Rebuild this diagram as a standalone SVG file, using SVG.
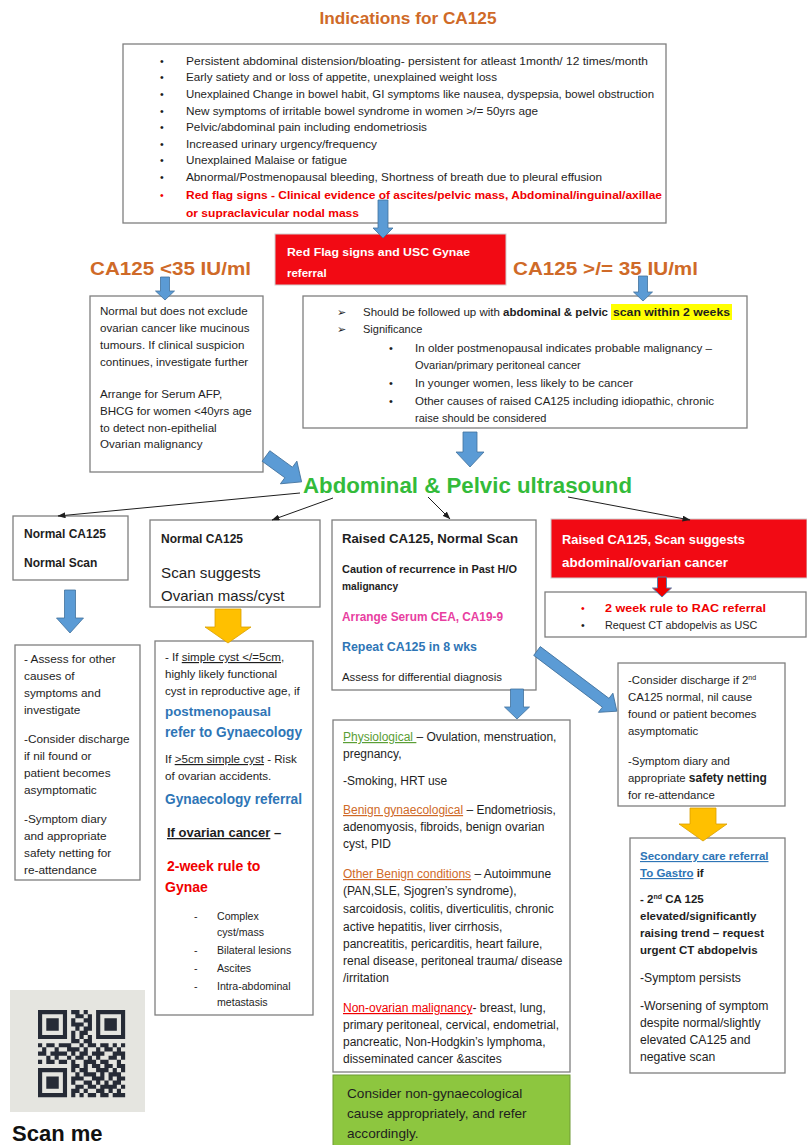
<svg xmlns="http://www.w3.org/2000/svg" width="807" height="1145" viewBox="0 0 807 1145" font-size="10.6">
<style>
  .bg{fill:#fff}
  .box{fill:#fff;stroke:#7f7f7f;stroke-width:1.3}
  .redbox{fill:#f20a14;stroke:#d0d0d0;stroke-width:1}
  .greenbox{fill:#8dc63f;stroke:#6f9a34;stroke-width:1}
  .t{font-family:"Liberation Sans",Arial,sans-serif;fill:#1e1e1e}
  .b{font-weight:bold}
  .red{fill:#f00000}
  .white{fill:#fff}
  .blue{fill:#2e75b6}
  .pink{fill:#e83ea0}
  .orange{fill:#cf6a28}
  .green{fill:#33bb3a}
  .ul{text-decoration:underline}
  .head{font-family:"Liberation Sans",Arial,sans-serif;font-weight:bold}
  .barrow{fill:#5b9bd5;stroke:#41719c;stroke-width:0.8}
  .garrow{fill:#ffc000;stroke:#d9a000;stroke-width:0.8}
  .rarrow{fill:#f00000;stroke:#5a7ca8;stroke-width:1}
  .conn{stroke:#1e1e1e;stroke-width:1;fill:none;marker-end:url(#tip)}
  .sym{font-family:"DejaVu Sans",sans-serif;fill:#1e1e1e}
</style>
<defs>
  <marker id="tip" viewBox="0 0 8 6" refX="7.5" refY="3" markerWidth="8" markerHeight="6" markerUnits="userSpaceOnUse" orient="auto">
    <path d="M0,0 L8,3 L0,6 z" fill="#1e1e1e"/>
  </marker>
</defs>
<rect class="bg" x="0" y="0" width="807" height="1145"/>

<!-- title -->
<text class="head orange" x="408" y="24" font-size="16" text-anchor="middle" textLength="177" lengthAdjust="spacingAndGlyphs">Indications for CA125</text>

<!-- indications -->
<g id="indications">
  <rect class="box" x="123" y="44" width="543" height="179"/>
  <g class="t">
    <text x="160" y="65">•</text><text x="186" y="65" textLength="462" lengthAdjust="spacingAndGlyphs">Persistent abdominal distension/bloating- persistent for atleast 1month/ 12 times/month</text>
    <text x="160" y="81">•</text><text x="186" y="81" textLength="311" lengthAdjust="spacingAndGlyphs">Early satiety and or loss of appetite, unexplained weight loss</text>
    <text x="160" y="98">•</text><text x="186" y="98" textLength="468" lengthAdjust="spacingAndGlyphs">Unexplained Change in bowel habit, GI symptoms like nausea, dyspepsia, bowel obstruction</text>
    <text x="160" y="115">•</text><text x="186" y="115" textLength="352" lengthAdjust="spacingAndGlyphs">New symptoms of irritable bowel syndrome in women &gt;/= 50yrs age</text>
    <text x="160" y="131">•</text><text x="186" y="131" textLength="241" lengthAdjust="spacingAndGlyphs">Pelvic/abdominal pain including endometriosis</text>
    <text x="160" y="148">•</text><text x="186" y="148" textLength="191" lengthAdjust="spacingAndGlyphs">Increased urinary urgency/frequency</text>
    <text x="160" y="164">•</text><text x="186" y="164" textLength="161" lengthAdjust="spacingAndGlyphs">Unexplained Malaise or fatigue</text>
    <text x="160" y="181">•</text><text x="186" y="181" textLength="416" lengthAdjust="spacingAndGlyphs">Abnormal/Postmenopausal bleeding, Shortness of breath due to pleural effusion</text>
    <text x="160" y="199" class="red">•</text><text x="186" y="199" class="b red" font-size="11" textLength="476" lengthAdjust="spacingAndGlyphs">Red flag signs - Clinical evidence of ascites/pelvic mass, Abdominal/inguinal/axillae</text>
    <text x="186" y="217" class="b red" font-size="11" textLength="173" lengthAdjust="spacingAndGlyphs">or supraclavicular nodal mass</text>
  </g>
</g>

<!-- red flag referral -->
<g id="redflag">
  <rect class="redbox" x="275" y="234" width="231" height="51"/>
  <text class="t b white" x="287" y="256" font-size="11.5" textLength="183" lengthAdjust="spacingAndGlyphs">Red Flag signs and USC Gynae</text>
  <text class="t b white" x="287" y="277" font-size="11.5">referral</text>
</g>

<!-- threshold headings -->
<text id="low-label" class="head orange" x="90" y="275" font-size="18.5" textLength="161" lengthAdjust="spacingAndGlyphs">CA125 &lt;35 IU/ml</text>
<text id="high-label" class="head orange" x="513" y="275" font-size="18.5" textLength="185" lengthAdjust="spacingAndGlyphs">CA125 &gt;/= 35 IU/ml</text>

<!-- CA125 below 35 -->
<g id="low-box">
  <rect class="box" x="90" y="296" width="173" height="176"/>
  <g class="t" font-size="11.6">
    <text x="100" y="315">Normal but does not exclude</text>
    <text x="100" y="332">ovarian cancer like mucinous</text>
    <text x="100" y="349">tumours. If clinical suspicion</text>
    <text x="100" y="366">continues, investigate further</text>
    <text x="100" y="398">Arrange for Serum AFP,</text>
    <text x="100" y="415">BHCG for women &lt;40yrs age</text>
    <text x="100" y="432">to detect non-epithelial</text>
    <text x="100" y="448">Ovarian malignancy</text>
  </g>
</g>

<!-- CA125 35 or above -->
<g id="high-box">
  <rect class="box" x="303" y="296" width="444" height="132"/>
  <rect x="611" y="304" width="121" height="16" fill="#ffff00"/>
  <g class="t" font-size="11">
    <text class="sym" x="337" y="316" font-size="11">➢</text>
    <text x="363" y="316" textLength="245" lengthAdjust="spacingAndGlyphs">Should be followed up with <tspan class="b">abdominal &amp; pelvic</tspan></text>
    <text x="613" y="316" class="b" textLength="117" lengthAdjust="spacingAndGlyphs">scan within 2 weeks</text>
    <text class="sym" x="337" y="333" font-size="11">➢</text>
    <text x="363" y="333">Significance</text>
    <text x="389" y="352">•</text><text x="415" y="352" textLength="297" lengthAdjust="spacingAndGlyphs">In older postmenopausal indicates probable malignancy –</text>
    <text x="415" y="369">Ovarian/primary peritoneal cancer</text>
    <text x="389" y="387">•</text><text x="415" y="387" textLength="218" lengthAdjust="spacingAndGlyphs">In younger women, less likely to be cancer</text>
    <text x="389" y="405">•</text><text x="415" y="405" textLength="299" lengthAdjust="spacingAndGlyphs">Other causes of raised CA125 including idiopathic, chronic</text>
    <text x="415" y="422">raise should be considered</text>
  </g>
</g>

<!-- ultrasound -->
<text id="ultrasound" class="head green" x="303" y="493" font-size="21.5" textLength="329" lengthAdjust="spacingAndGlyphs">Abdominal &amp; Pelvic ultrasound</text>

<!-- outcome: normal / normal -->
<g id="normal-normal">
  <rect class="box" x="13" y="516" width="115" height="64"/>
  <text class="t b" x="24" y="538" font-size="12">Normal CA125</text>
  <text class="t b" x="24" y="567" font-size="12">Normal Scan</text>
</g>

<!-- outcome: normal / mass -->
<g id="normal-mass">
  <rect class="box" x="150" y="520" width="170" height="87"/>
  <text class="t b" x="161" y="543" font-size="12">Normal CA125</text>
  <text class="t" x="161" y="578" font-size="15.2">Scan suggests</text>
  <text class="t" x="161" y="601" font-size="15">Ovarian mass/cyst</text>
</g>

<!-- outcome: raised / normal -->
<g id="raised-normal">
  <rect class="box" x="332" y="520" width="204" height="170"/>
  <text class="t b" x="342" y="543" font-size="12.5" textLength="176" lengthAdjust="spacingAndGlyphs">Raised CA125, Normal Scan</text>
  <text class="t b" x="342" y="573" font-size="10.2" textLength="175" lengthAdjust="spacingAndGlyphs">Caution of recurrence in Past H/O</text>
  <text class="t b" x="342" y="590" font-size="10.2">malignancy</text>
  <text class="t b pink" x="342" y="621" font-size="12" textLength="161" lengthAdjust="spacingAndGlyphs">Arrange Serum CEA, CA19-9</text>
  <text class="t b blue" x="342" y="651" font-size="12" textLength="135" lengthAdjust="spacingAndGlyphs">Repeat CA125 in 8 wks</text>
  <text class="t" x="342" y="681" font-size="11.4">Assess for differential diagnosis</text>
</g>

<!-- outcome: raised / cancer -->
<g id="raised-cancer">
  <rect class="redbox" x="551" y="519" width="256" height="59"/>
  <text class="t b white" x="562" y="544" font-size="12.5" textLength="183" lengthAdjust="spacingAndGlyphs">Raised CA125, Scan suggests</text>
  <text class="t b white" x="562" y="567" font-size="12.5" textLength="166" lengthAdjust="spacingAndGlyphs">abdominal/ovarian cancer</text>
</g>

<!-- RAC referral -->
<g id="rac">
  <rect class="box" x="545" y="592" width="261" height="45"/>
  <text class="t red" x="581" y="612">•</text>
  <text class="t b red" x="605" y="612" font-size="11.5" textLength="161" lengthAdjust="spacingAndGlyphs">2 week rule to RAC referral</text>
  <text class="t" x="581" y="629">•</text>
  <text class="t" x="605" y="629" font-size="10.8">Request CT abdopelvis as USC</text>
</g>

<!-- normal / normal actions -->
<g id="normal-actions">
  <rect class="box" x="15" y="645" width="125" height="235"/>
  <g class="t" font-size="11.8">
    <text x="24" y="663">- Assess for other</text>
    <text x="24" y="680">causes of</text>
    <text x="24" y="697">symptoms and</text>
    <text x="24" y="714">investigate</text>
    <text x="24" y="743">-Consider discharge</text>
    <text x="24" y="760">if nil found or</text>
    <text x="24" y="777">patient becomes</text>
    <text x="24" y="794">asymptomatic</text>
    <text x="24" y="823">-Symptom diary</text>
    <text x="24" y="840">and appropriate</text>
    <text x="24" y="857">safety netting for</text>
    <text x="24" y="874">re-attendance</text>
  </g>
</g>

<!-- cyst / mass actions -->
<g id="cyst-actions">
  <rect class="box" x="155" y="641" width="158" height="374"/>
  <g class="t" font-size="11.6">
    <text x="165" y="661">- If <tspan class="ul">simple cyst &lt;/=5cm</tspan>,</text>
    <text x="165" y="678">highly likely functional</text>
    <text x="165" y="695">cyst in reproductive age, if</text>
    <text x="165" y="763">If <tspan class="ul">&gt;5cm simple cyst</tspan> - Risk</text>
    <text x="165" y="780">of ovarian accidents.</text>
  </g>
  <text class="t b blue" x="165" y="716" font-size="13.6" textLength="106" lengthAdjust="spacingAndGlyphs">postmenopausal</text>
  <text class="t b blue" x="165" y="737" font-size="14.5" textLength="137" lengthAdjust="spacingAndGlyphs">refer to Gynaecology</text>
  <text class="t b blue" x="165" y="804" font-size="14.5" textLength="137" lengthAdjust="spacingAndGlyphs">Gynaecology referral</text>
  <text class="t b" x="167" y="837" font-size="13"><tspan class="ul">If ovarian cancer</tspan> –</text>
  <text class="t b red" x="167" y="871" font-size="14">2-week rule to</text>
  <text class="t b red" x="165" y="892" font-size="14">Gynae</text>
  <g class="t" font-size="10.6">
    <text x="194" y="920">-</text><text x="217" y="920">Complex</text>
    <text x="217" y="936">cyst/mass</text>
    <text x="194" y="954">-</text><text x="217" y="954">Bilateral lesions</text>
    <text x="194" y="972">-</text><text x="217" y="972">Ascites</text>
    <text x="194" y="990">-</text><text x="217" y="990">Intra-abdominal</text>
    <text x="217" y="1006">metastasis</text>
  </g>
</g>

<!-- differential causes -->
<g id="differentials">
  <rect class="box" x="333" y="720" width="237" height="352"/>
  <g class="t" font-size="12">
    <text x="343" y="741"><tspan class="ul" fill="#5a9e35">Physiological </tspan>– Ovulation, menstruation,</text>
    <text x="343" y="758">pregnancy,</text>
    <text x="343" y="785">-Smoking, HRT use</text>
    <text x="343" y="814"><tspan class="ul" fill="#cf6a28">Benign gynaecological</tspan> – Endometriosis,</text>
    <text x="343" y="831">adenomyosis, fibroids, benign ovarian</text>
    <text x="343" y="848">cyst, PID</text>
    <text x="343" y="878"><tspan class="ul" fill="#cf6a28">Other Benign conditions</tspan> – Autoimmune</text>
    <text x="343" y="895">(PAN,SLE, Sjogren’s syndrome),</text>
    <text x="343" y="913">sarcoidosis, colitis, diverticulitis, chronic</text>
    <text x="343" y="931">active hepatitis, liver cirrhosis,</text>
    <text x="343" y="948">pancreatitis, pericarditis, heart failure,</text>
    <text x="343" y="965">renal disease, peritoneal trauma/ disease</text>
    <text x="343" y="982">/irritation</text>
    <text x="343" y="1012"><tspan class="ul" fill="#f00000">Non-ovarian malignancy</tspan>- breast, lung,</text>
    <text x="343" y="1029">primary peritoneal, cervical, endometrial,</text>
    <text x="343" y="1046">pancreatic, Non-Hodgkin’s lymphoma,</text>
    <text x="343" y="1063">disseminated cancer &amp;ascites</text>
  </g>
</g>

<!-- non-gynaecological advice -->
<g id="advice">
  <rect class="greenbox" x="333" y="1075" width="237" height="72"/>
  <g class="t" font-size="13.6">
    <text x="347" y="1098">Consider non-gynaecological</text>
    <text x="347" y="1118">cause appropriately, and refer</text>
    <text x="347" y="1138">accordingly.</text>
  </g>
</g>

<!-- repeat CA125 follow-up -->
<g id="followup">
  <rect class="box" x="618" y="663" width="167" height="143"/>
  <g class="t" font-size="11.4">
    <text x="628" y="684">-Consider discharge if 2<tspan dy="-4" font-size="7">nd</tspan></text>
    <text x="628" y="701">CA125 normal, nil cause</text>
    <text x="628" y="718">found or patient becomes</text>
    <text x="628" y="735">asymptomatic</text>
    <text x="628" y="765">-Symptom diary and</text>
    <text x="628" y="782">appropriate <tspan class="b" font-size="12">safety netting</tspan></text>
    <text x="628" y="799">for re-attendance</text>
  </g>
</g>

<!-- gastro referral -->
<g id="gastro">
  <rect class="box" x="630" y="838" width="155" height="235"/>
  <g class="t" font-size="11.5">
    <text x="640" y="860" class="b blue"> <tspan class="ul">Secondary care referral</tspan></text>
    <text x="640" y="877" class="b"><tspan class="ul" fill="#2e75b6">To Gastro</tspan> if</text>
    <text x="640" y="903" class="b">- 2<tspan dy="-4" font-size="7">nd</tspan><tspan dy="4"> CA 125</tspan></text>
    <text x="640" y="920" class="b">elevated/significantly</text>
    <text x="640" y="937" class="b">raising trend – request</text>
    <text x="640" y="954" class="b">urgent CT abdopelvis</text>
  </g>
  <g class="t" font-size="12.2">
    <text x="640" y="982">-Symptom persists</text>
    <text x="640" y="1010">-Worsening of symptom</text>
    <text x="640" y="1027">despite normal/slightly</text>
    <text x="640" y="1044">elevated CA125 and</text>
    <text x="640" y="1061">negative scan</text>
  </g>
</g>

<!-- QR code -->
<g id="qr">
  <rect x="10" y="990" width="135" height="122" fill="#e5e5e0"/>
  <path transform="translate(38,1010) scale(4.15)" fill="none" stroke="#262b36" stroke-width="1"
    d="M0 0.5h7m1 0h2m1 0h1m2 0h7
       M0 1.5h1m5 0h1m2 0h2m1 0h1m1 0h1m5 0h1
       M0 2.5h1m1 0h3m1 0h1m1 0h1m2 0h2m1 0h1m1 0h3m1 0h1
       M0 3.5h1m1 0h3m1 0h1m1 0h3m1 0h1m1 0h1m1 0h3m1 0h1
       M0 4.5h1m1 0h3m1 0h1m2 0h1m1 0h2m1 0h1m1 0h3m1 0h1
       M0 5.5h1m5 0h1m1 0h1m1 0h2m2 0h1m5 0h1
       M0 6.5h7m1 0h1m1 0h1m1 0h1m1 0h7
       M8 7.5h2m1 0h2
       M0 8.5h1m1 0h2m1 0h3m2 0h1m1 0h2m1 0h2m1 0h1m1 0h1
       M1 9.5h1m2 0h1m2 0h3m1 0h1m2 0h1m1 0h2m1 0h1
       M0 10.5h2m1 0h4m1 0h1m1 0h2m1 0h3m2 0h3
       M2 11.5h1m1 0h1m2 0h1m1 0h2m1 0h1m1 0h1m2 0h2m1 0h1
       M0 12.5h1m1 0h2m1 0h2m1 0h1m2 0h3m1 0h2m2 0h1
       M8 13.5h2m1 0h1m1 0h2m1 0h2m1 0h2
       M0 14.5h7m1 0h1m1 0h2m2 0h3m1 0h1m1 0h1
       M0 15.5h1m5 0h1m2 0h1m1 0h3m1 0h1m1 0h3
       M0 16.5h1m1 0h3m1 0h1m1 0h3m2 0h3m1 0h1m1 0h2
       M0 17.5h1m1 0h3m1 0h1m1 0h1m2 0h2m1 0h1m1 0h1m1 0h2
       M0 18.5h1m1 0h3m1 0h1m2 0h2m1 0h2m1 0h4m1 0h1
       M0 19.5h1m5 0h1m1 0h2m1 0h1m2 0h2m1 0h1m1 0h1
       M0 20.5h7m1 0h1m1 0h1m1 0h2m1 0h2m1 0h3"/>
</g>
<text id="scan-me" class="head" x="12" y="1141" font-size="22" fill="#111">Scan me</text>

<!-- connectors -->
<g id="connectors">
  <line class="conn" x1="300" y1="493" x2="58" y2="516"/>
  <line class="conn" x1="333" y1="498" x2="272" y2="520"/>
  <line class="conn" x1="428" y1="497" x2="450" y2="519"/>
  <line class="conn" x1="568" y1="497" x2="690" y2="520"/>

  <polygon class="barrow" points="378,200 388,200 388,228 393,228 383,238 373,228 378,228"/>
  <polygon class="barrow" points="160.5,277 169.5,277 169.5,291 174.5,291 165,300 155.5,291 160.5,291"/>
  <polygon class="barrow" points="638.5,276 647.5,276 647.5,292 652.5,292 643,301 633.5,292 638.5,292"/>
  <polygon class="barrow" points="463,432 477,432 477,452 484,452 470,467 456,452 463,452"/>
  <polygon class="barrow" transform="translate(266,456) rotate(36)" points="0,-6.5 28,-6.5 28,-14 44,0 28,14 28,6.5 0,6.5"/>
  <polygon class="barrow" points="64.5,590 75.5,590 75.5,618 83.5,618 70,633 56.5,618 64.5,618"/>
  <polygon class="garrow" points="215,609 241,609 241,627 251,627 228,643 205,627 215,627"/>
  <polygon class="rarrow" points="657.5,577 666.5,577 666.5,588 671.5,588 662,597 652.5,588 657.5,588"/>
  <polygon class="barrow" points="510.5,689 523.5,689 523.5,707 529.5,707 517,719 504.5,707 510.5,707"/>
  <polygon class="barrow" transform="translate(537,651) rotate(37)" points="0,-5.5 86,-5.5 86,-12 100,0 86,12 86,5.5 0,5.5"/>
  <polygon class="garrow" points="690,808 716,808 716,824 727,824 703,841 679,824 690,824"/>
</g>
</svg>
